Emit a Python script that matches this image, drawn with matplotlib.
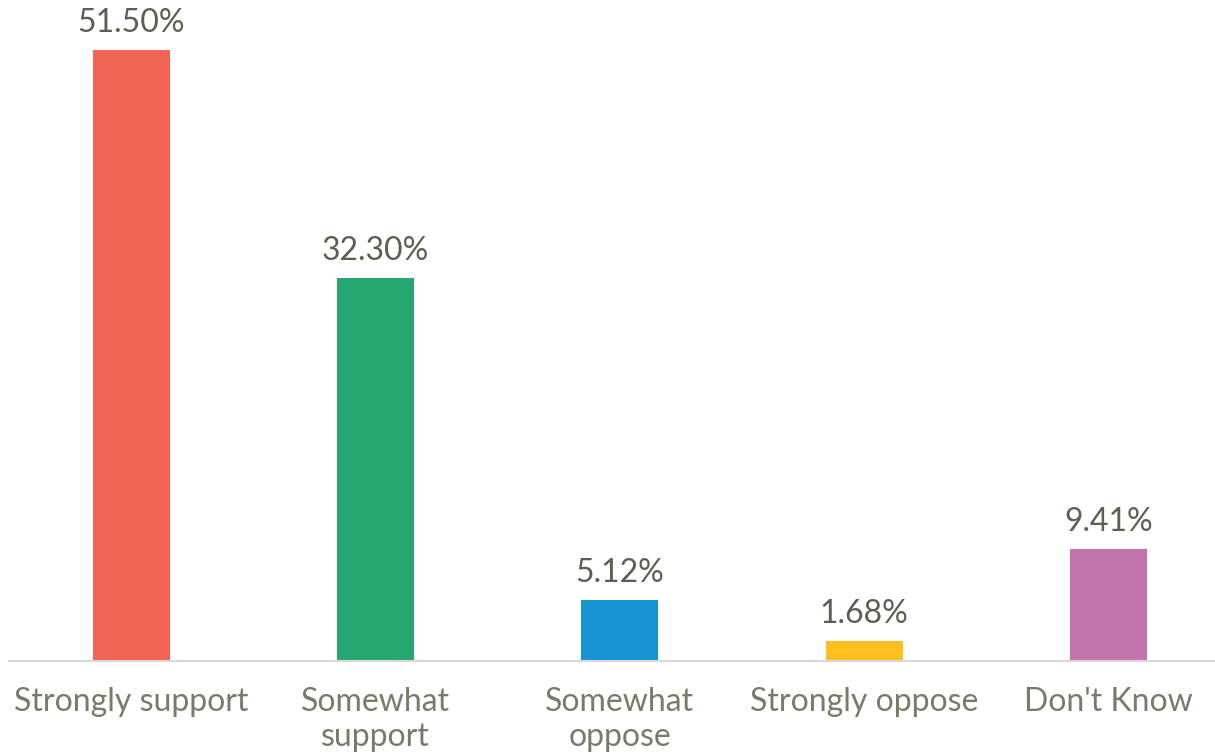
import matplotlib
matplotlib.use("Agg")
import matplotlib.pyplot as plt

categories = ["Strongly support", "Somewhat\nsupport", "Somewhat\noppose", "Strongly oppose", "Don't Know"]
values = [51.50, 32.30, 5.12, 1.68, 9.41]
colors = ["#F26554", "#26A772", "#1793D2", "#FEC01E", "#C273AC"]

plt.rcParams['font.family'] = ['Lato', 'DejaVu Sans']

fig = plt.figure(figsize=(12.15, 7.54), dpi=100)
ax = fig.add_axes([0, 93 / 754, 1, 661 / 754])

x = list(range(len(categories)))
ax.bar(x, values, width=0.315, color=colors)

for xi, v in zip(x, values):
    ax.annotate(f"{v:.2f}%", (xi, v), xytext=(0, 13), textcoords="offset points",
                ha="center", va="baseline", fontsize=23, color="#5e5e52")

ax.set_xlim(-0.538, 4.436)
ax.set_ylim(0, 55.7)
ax.set_xticks(x)
ax.set_xticklabels(categories, fontsize=23, color="#7a7a6a", linespacing=1.2)
ax.tick_params(axis="x", length=0, pad=19)
ax.set_yticks([])
for s in ["top", "left", "right"]:
    ax.spines[s].set_visible(False)
ax.spines["bottom"].set_color("#d9d9d9")
ax.spines["bottom"].set_linewidth(1.5)
ax.spines["bottom"].set_bounds(-0.5, 4.436)

fig.savefig("out.png", dpi=100)
